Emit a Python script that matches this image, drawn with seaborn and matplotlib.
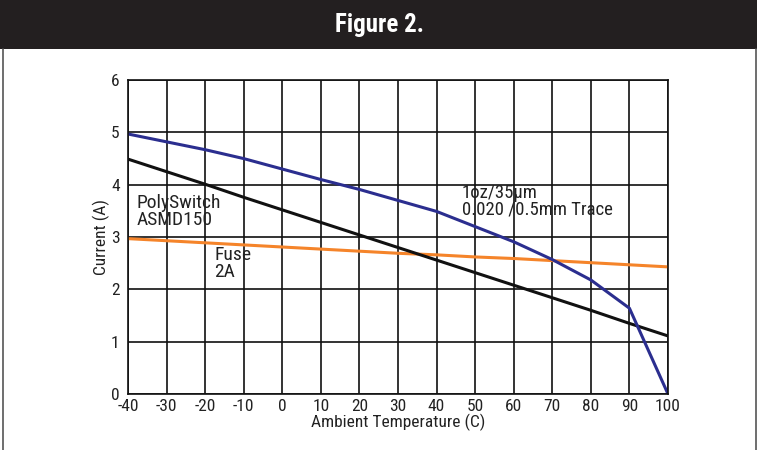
import matplotlib
matplotlib.use("Agg")
import matplotlib.pyplot as plt
import seaborn as sns
import pandas as pd
from matplotlib import font_manager
from matplotlib.patches import Rectangle
from matplotlib.lines import Line2D

# values
temps = [-40, -30, -20, -10, 0, 10, 20, 30, 40, 50, 60, 70, 80, 90, 100]
trace_1oz = [4.97, 4.82, 4.67, 4.50, 4.30, 4.10, 3.91, 3.70, 3.49, 3.20, 2.91, 2.57, 2.18, 1.64, 0.0]
polyswitch = [4.49, 4.25, 4.01, 3.76, 3.52, 3.28, 3.04, 2.80, 2.56, 2.32, 2.08, 1.84, 1.60, 1.35, 1.11]
fuse = [2.97, 2.93, 2.89, 2.85, 2.81, 2.77, 2.73, 2.69, 2.66, 2.62, 2.59, 2.55, 2.51, 2.47, 2.43]

x_ticks = [-40, -30, -20, -10, 0, 10, 20, 30, 40, 50, 60, 70, 80, 90, 100]
y_ticks = [0, 1, 2, 3, 4, 5, 6]


def first_font(candidates, fallback):
    have = {f.name for f in font_manager.fontManager.ttflist}
    for c in candidates:
        if c in have:
            return c
    return fallback


body_font = first_font(["Liberation Sans Narrow", "Roboto Condensed", "Archivo Narrow",
                        "Barlow Semi Condensed"], "Liberation Sans")
title_font = first_font(["Roboto Condensed", "Barlow Condensed", "Liberation Sans Narrow",
                         "Asap Condensed"], body_font)

sns.set_style("white")
plt.rcParams["font.family"] = [body_font, "DejaVu Sans"]
plt.rcParams["axes.unicode_minus"] = False

df = pd.DataFrame({"temp": temps, "trace": trace_1oz, "poly": polyswitch, "fuse": fuse})

fig = plt.figure(figsize=(7.59, 4.5), dpi=100)

# title bar and frame
fig.patches.append(Rectangle((0, 0.891), 0.997, 0.109, transform=fig.transFigure,
                             facecolor="#231f20", edgecolor="none"))
fig.lines.append(Line2D([0.004, 0.004], [0, 0.891], transform=fig.transFigure, color="#555555", lw=1.2))
fig.lines.append(Line2D([0.996, 0.996], [0, 0.891], transform=fig.transFigure, color="#555555", lw=1.2))
fig.text(0.5, 0.944, "Figure 2.", color="white", ha="center", va="center",
         fontsize=18, fontweight="bold", family=[title_font, "DejaVu Sans"])

ax = fig.add_axes([0.1686, 0.1244, 0.7115, 0.6976])
sns.lineplot(data=df, x="temp", y="fuse", ax=ax, color="#f5842a", lw=2.2)
sns.lineplot(data=df, x="temp", y="poly", ax=ax, color="#111111", lw=2.2)
sns.lineplot(data=df, x="temp", y="trace", ax=ax, color="#2b2e8f", lw=2.2)

ax.set_xlim(-40, 100)
ax.set_ylim(0, 6)
ax.set_xticks(x_ticks)
ax.set_yticks(y_ticks)
ax.grid(True, color="#111111", lw=1.2)
for s in ax.spines.values():
    s.set_color("#111111")
    s.set_linewidth(1.2)
ax.tick_params(length=0, labelsize=12.5, colors="#222222")
ax.tick_params(axis="x", pad=3.5)
ax.tick_params(axis="y", pad=6)
ax.set_xlabel("Ambient Temperature (C)", fontsize=12.5, color="#222222", labelpad=0)
ax.set_ylabel("Current (A)", fontsize=12.5, color="#222222", labelpad=1)

ax.text(-37.7, 3.82, "PolySwitch\nASMD150", fontsize=14, va="top", ha="left",
        color="#222222", linespacing=0.9)
ax.text(-17.6, 2.82, "Fuse\n2A", fontsize=14, va="top", ha="left",
        color="#222222", linespacing=0.9)
ax.text(46.5, 4.02, "1oz/35µm\n0.020 /0.5mm Trace", fontsize=13.5, va="top", ha="left",
        color="#222222", linespacing=0.9)

fig.savefig("out.png", dpi=100)
